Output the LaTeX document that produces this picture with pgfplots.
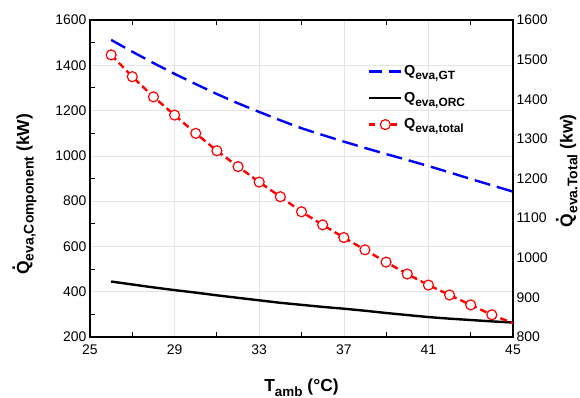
\documentclass[border=0pt]{standalone}
\usepackage{pgfplots}
\pgfplotsset{compat=1.18}
\usepackage{pgfplotstable}
\usepackage{fontspec}
\setmainfont{Liberation Sans}
\usetikzlibrary{calc}
\newcommand\Qd{\ooalign{Q\cr\hidewidth\raisebox{0.8em}{.}\hidewidth\cr}}
\newcommand\sub[2]{\raisebox{-0.5ex}{\fontsize{#1}{#1}\selectfont #2}}

\pgfplotstableread{
T GT ORC TOT
26 1512 445 1512
27 1460 432 1457
28 1410 419 1406
29 1362 407 1360
30 1317 396 1314
31 1273 384 1270
32 1232 373 1230
33 1194 362 1191
34 1157 351 1154
35 1122 342 1116
36 1092 333 1083
37 1063 325 1051
38 1035 316 1020
39 1008 306 989
40 982 297 959
41 955 288 931
42 927 281 906
43 898 275 881
44 870 269 856
45 842 264 835
}\data

\begin{document}
\begin{tikzpicture}
\pgfplotsset{
  every axis/.append style={
    scale only axis, width=423bp, height=317bp,
    xmin=25, xmax=45,
    /pgf/number format/assume math mode=true,
    /pgf/number format/1000 sep={},
    tick label style={font=\fontsize{14}{14}\selectfont},
    axis line style={line width=1.2bp},
  },
}
\begin{axis}[
  name=ax,
  ymin=200, ymax=1600,
  ytick={200,400,...,1600},
  minor ytick={300,500,...,1500},
  xtick={25,29,...,45},
  minor xtick={27,31,...,43},
  major tick length=0pt,
  minor tick length=5bp,
  every tick/.style={line width=1bp, black},
  ytick pos=left,
  grid=major,
  major grid style={black!10, line width=0.6bp},
  xticklabel style={yshift=-4bp},
  every axis x label/.style={at={(axis description cs:0.5,-0.1735)}, anchor=base},
  every axis y label/.style={at={(axis description cs:-0.1442,0.45)}, anchor=base, rotate=90},
  label style={font=\fontsize{17.5}{17.5}\selectfont\bfseries},
  xlabel={T\sub{13.5}{amb} (°C)},
  ylabel={\Qd\sub{14}{eva,Component} (kW)},
]
\addplot[blue, line width=2.4bp, dash pattern=on 16bp off 7bp] table[x=T,y=GT] {\data};
\addplot[black, line width=2.4bp] table[x=T,y=ORC] {\data};
\end{axis}
\begin{axis}[
  ymin=800, ymax=1600,
  axis y line*=right,
  axis x line=none,
  ytick={800,900,...,1600},
  major tick length=0pt,
  every axis y label/.style={at={(axis description cs:1.141,0.524)}, anchor=base, rotate=90},
  label style={font=\fontsize{17.5}{17.5}\selectfont\bfseries},
  ylabel={\Qd\sub{14}{eva.Total} (kw)},
  legend style={at={(0.65,0.866)}, anchor=north west, draw=none, fill=none,
    font=\fontsize{14.5}{14.5}\selectfont\bfseries, row sep=13bp,
    nodes={inner xsep=1.5bp, inner ysep=1bp}},
  legend cell align=left,
  legend image code/.code={\draw[mark repeat=2, mark phase=2, #1] plot coordinates {(0bp,0bp) (16bp,0bp) (32bp,0bp)};},
]
\addlegendimage{blue, line width=2.4bp, dash pattern=on 13bp off 7bp}
\addlegendentry{Q\sub{12}{eva,GT}}
\addlegendimage{black, line width=2.4bp}
\addlegendentry{Q\sub{12}{eva,ORC}}
\addlegendimage{red, line width=2.4bp, dash pattern=on 6bp off 5bp, mark=*, mark size=5bp,
  mark options={solid, fill=white, draw=red, line width=1.2bp}}
\addlegendentry{Q\sub{12}{eva,total}}
\addplot[forget plot, red, line width=2.4bp, dash pattern=on 7bp off 4bp,
  mark=*, mark size=5bp, mark indices={1,...,19},
  mark options={solid, fill=white, draw=red, line width=1.2bp}] table[x=T,y=TOT] {\data};
\end{axis}
\pgfresetboundingbox
\path[use as bounding box] ($(ax.south west)+(-90bp,-61bp)$) rectangle ($(ax.north east)+(67bp,20bp)$);
\end{tikzpicture}
\end{document}
